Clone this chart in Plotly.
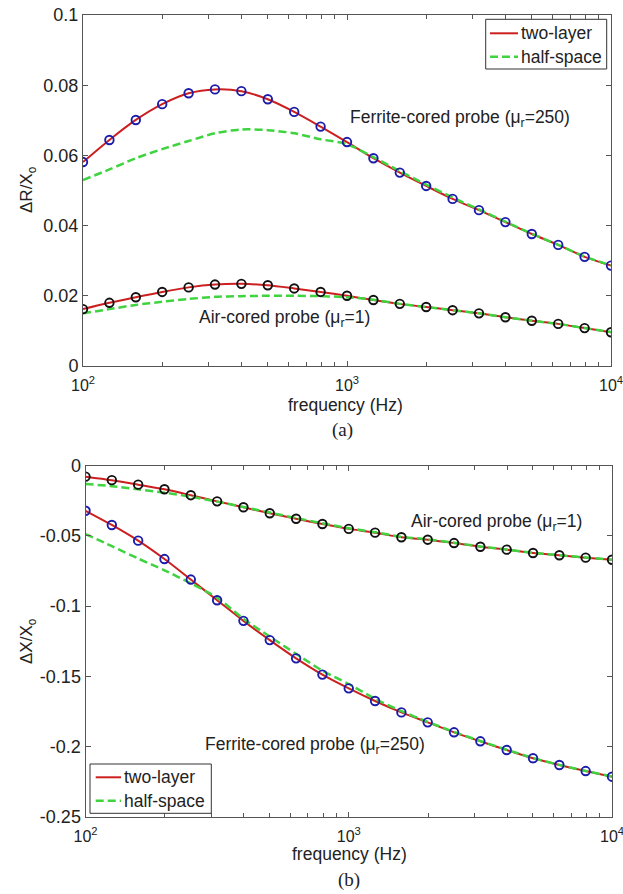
import plotly.graph_objects as go

# Frequency sweep (Hz), 10 points per decade
freq = [100, 125.9, 158.5, 199.5, 251.2, 316.2, 398.1, 501.2, 631.0, 794.3,
        1000, 1259, 1585, 1995, 2512, 3162, 3981, 5012, 6310, 7943, 10000]

# (a) normalised resistance change dR/Xo
dR_ferrite_two_layer = [0.0581, 0.0644, 0.0701, 0.0746, 0.0777, 0.0788, 0.0783, 0.0760, 0.0724, 0.0682,
                        0.0638, 0.0592, 0.0551, 0.0513, 0.0476, 0.0444, 0.0410, 0.0376, 0.0345, 0.0311, 0.0286]
dR_ferrite_half_space = [0.0530, 0.0560, 0.0592, 0.0618, 0.0641, 0.0663, 0.0674, 0.0672, 0.0663, 0.0646,
                         0.0632, 0.0595, 0.0555, 0.0517, 0.0480, 0.0446, 0.0411, 0.0377, 0.0345, 0.0312, 0.0287]
dR_air_two_layer = [0.0162, 0.0180, 0.0196, 0.0211, 0.0224, 0.0232, 0.0234, 0.0230, 0.0221, 0.0211,
                    0.0200, 0.0188, 0.0177, 0.0168, 0.0159, 0.0150, 0.0139, 0.0129, 0.0120, 0.0108, 0.0096]
dR_air_half_space = [0.0150, 0.0162, 0.0174, 0.0183, 0.0191, 0.0197, 0.0199, 0.0200, 0.0200, 0.0199,
                     0.0196, 0.0189, 0.0177, 0.0168, 0.0159, 0.0150, 0.0139, 0.0129, 0.0120, 0.0108, 0.0097]

# (b) normalised reactance change dX/Xo
dX_air_two_layer = [-0.0078, -0.0103, -0.0135, -0.0168, -0.0210, -0.0254, -0.0296, -0.0339, -0.0378, -0.0415,
                    -0.0450, -0.0477, -0.0510, -0.0527, -0.0551, -0.0577, -0.0598, -0.0622, -0.0638, -0.0655, -0.0670]
dX_air_half_space = [-0.0130, -0.0146, -0.0168, -0.0192, -0.0221, -0.0256, -0.0294, -0.0334, -0.0373, -0.0410,
                     -0.0445, -0.0474, -0.0506, -0.0525, -0.0549, -0.0575, -0.0597, -0.0621, -0.0637, -0.0654, -0.0669]
dX_ferrite_two_layer = [-0.0321, -0.0422, -0.0534, -0.0665, -0.0811, -0.0958, -0.1105, -0.1242, -0.1372, -0.1488,
                        -0.1586, -0.1676, -0.1757, -0.1828, -0.1899, -0.1963, -0.2025, -0.2084, -0.2132, -0.2175, -0.2215]
dX_ferrite_half_space = [-0.0487, -0.0573, -0.0661, -0.0745, -0.0838, -0.0940, -0.1090, -0.1217, -0.1340, -0.1460,
                         -0.1555, -0.1660, -0.1748, -0.1824, -0.1896, -0.1961, -0.2023, -0.2082, -0.2131, -0.2174, -0.2214]

# Axis ticks
x_major = [100, 1000, 10000]
x_major_text = ["10<sup>2</sup>", "10<sup>3</sup>", "10<sup>4</sup>"]
x_minor = [200, 300, 400, 500, 600, 700, 800, 900,
           2000, 3000, 4000, 5000, 6000, 7000, 8000, 9000]
yR_ticks = [0, 0.02, 0.04, 0.06, 0.08, 0.1]
yR_text = ["0", "0.02", "0.04", "0.06", "0.08", "0.1"]
yX_ticks = [-0.25, -0.2, -0.15, -0.1, -0.05, 0]
yX_text = ["-0.25", "-0.2", "-0.15", "-0.1", "-0.05", "0"]

legend_names = ["two-layer", "half-space"]

W, H = 623, 894
SANS = "Liberation Sans, Arial, sans-serif"
SERIF = "Liberation Serif, Times New Roman, serif"
TXT = "#222222"
AX = "#555555"
RED = "#cc2020"
GREEN = "#3fd43f"
BLUE = "#1c1caa"
BLACK = "#111111"
GREEN_DASH = "8px,4px"


def fx(p):
    return p / W


def fy(p):
    return 1 - p / H


fig = go.Figure()


def add_panel(xa, ya, two_layer, half_space, marker_colors):
    for tl, hs in zip(two_layer, half_space):
        fig.add_trace(go.Scatter(
            x=freq, y=tl, mode="lines", name=legend_names[0], showlegend=False,
            line=dict(color=RED, width=2, shape="spline", smoothing=0.8),
            xaxis=xa, yaxis=ya))
        fig.add_trace(go.Scatter(
            x=freq, y=hs, mode="lines", name=legend_names[1], showlegend=False,
            line=dict(color=GREEN, width=2.5, dash=GREEN_DASH, shape="spline", smoothing=0.8),
            xaxis=xa, yaxis=ya))
    for tl, mc in zip(two_layer, marker_colors):
        fig.add_trace(go.Scatter(
            x=freq, y=tl, mode="markers", showlegend=False,
            marker=dict(symbol="circle-open", size=8.5, color=mc, line=dict(width=1.9, color=mc)),
            xaxis=xa, yaxis=ya))


add_panel("x", "y",
          [dR_ferrite_two_layer, dR_air_two_layer],
          [dR_ferrite_half_space, dR_air_half_space],
          [BLUE, BLACK])
add_panel("x2", "y2",
          [dX_air_two_layer, dX_ferrite_two_layer],
          [dX_air_half_space, dX_ferrite_half_space],
          [BLACK, BLUE])

xcommon = dict(
    type="log", range=[2, 4], tickmode="array", tickvals=x_major, ticktext=x_major_text,
    ticks="inside", ticklen=5, tickcolor=AX, showline=True, linecolor=AX, linewidth=1,
    mirror="ticks", showgrid=False, zeroline=False, automargin=False,
    ticklabeloverflow="allow", ticklabelstandoff=5,
    tickfont=dict(family=SANS, size=16, color=TXT),
    minor=dict(tickmode="array", tickvals=x_minor, ticks="inside", ticklen=4, tickcolor=AX, showgrid=False),
)
ycommon = dict(
    tickmode="array", ticks="inside", ticklen=5, tickcolor=AX, showline=True, linecolor=AX,
    linewidth=1, mirror="ticks", showgrid=False, zeroline=False, automargin=False,
    ticklabeloverflow="allow",
    tickfont=dict(family=SANS, size=18, color=TXT),
)

fig.update_layout(
    width=W, height=H, margin=dict(l=0, r=0, t=0, b=0),
    paper_bgcolor="white", plot_bgcolor="white", showlegend=False,
    xaxis=dict(domain=[fx(83), fx(611)], anchor="y", **xcommon),
    yaxis=dict(domain=[fy(366), fy(15)], anchor="x", range=[0, 0.1],
               tickvals=yR_ticks, ticktext=yR_text, **ycommon),
    xaxis2=dict(domain=[fx(85.5), fx(612)], anchor="y2", **xcommon),
    yaxis2=dict(domain=[fy(816.7), fy(465.7)], anchor="x2", range=[-0.25, 0],
                tickvals=yX_ticks, ticktext=yX_text, **ycommon),
)


def label(x, y, text, size=17.5, family=SANS, angle=0, xanchor="center"):
    fig.add_annotation(x=fx(x), y=fy(y), xref="paper", yref="paper", text=text,
                       showarrow=False, textangle=angle, xanchor=xanchor, yanchor="middle",
                       font=dict(family=family, size=size, color=TXT))


def legend_box(x0, y0, x1, y1, row_y, key_x0, key_x1, text_x):
    fig.add_shape(type="rect", xref="paper", yref="paper",
                  x0=fx(x0), x1=fx(x1), y0=fy(y1), y1=fy(y0),
                  line=dict(color="#333333", width=1), fillcolor="white", layer="above")
    styles = [dict(color=RED, width=2), dict(color=GREEN, width=2.5, dash=GREEN_DASH)]
    for name, ry, st in zip(legend_names, row_y, styles):
        fig.add_shape(type="line", xref="paper", yref="paper",
                      x0=fx(key_x0), x1=fx(key_x1), y0=fy(ry), y1=fy(ry),
                      line=st, layer="above")
        label(text_x, ry, name, xanchor="left")


# legends
legend_box(485.7, 19.3, 606.7, 69, [33.3, 56.7], 490, 518, 518.5)
legend_box(90, 764, 211.3, 813.3, [777.3, 800.7], 95.7, 121, 122)

# curve labels
label(460, 118, "Ferrite-cored probe (μ<sub>r</sub>=250)")
label(284, 318, "Air-cored probe (μ<sub>r</sub>=1)")
label(497, 522, "Air-cored probe (μ<sub>r</sub>=1)")
label(315, 745, "Ferrite-cored probe (μ<sub>r</sub>=250)")

# axis titles and panel captions
label(28, 190, "ΔR/X<sub>o</sub>", size=17, angle=-90)
label(28, 641, "ΔX/X<sub>o</sub>", size=17, angle=-90)
label(345, 405, "frequency (Hz)")
label(349, 854, "frequency (Hz)")
label(342, 430, "(a)", size=19, family=SERIF)
label(349, 880, "(b)", size=19, family=SERIF)

fig.write_html("out.html")
